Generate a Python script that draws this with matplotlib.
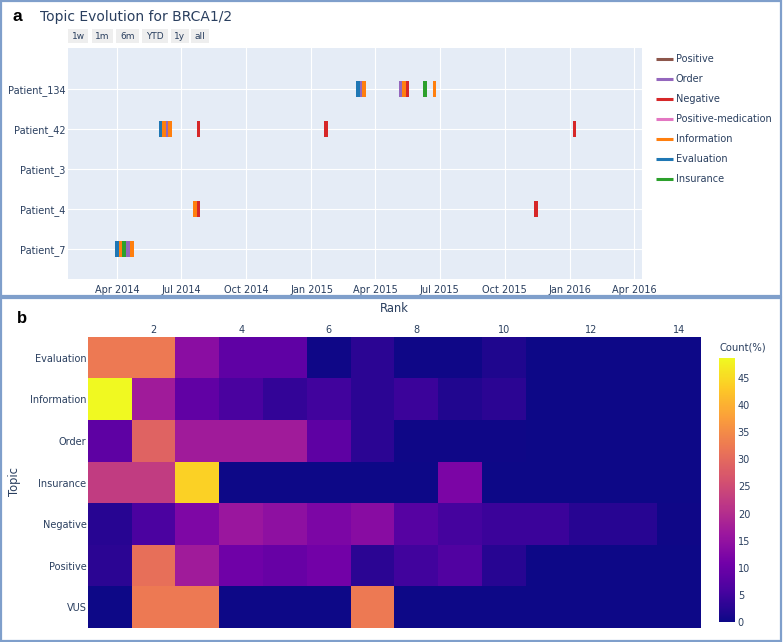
import matplotlib
matplotlib.use('Agg')
import matplotlib.pyplot as plt
import matplotlib.dates as mdates
from matplotlib.colors import LinearSegmentedColormap
from matplotlib.patches import Rectangle
from matplotlib.lines import Line2D
import numpy as np
import datetime as dt

# ---------------- Panel a data ----------------
patients = ['Patient_7', 'Patient_4', 'Patient_3', 'Patient_42', 'Patient_134']  # bottom -> top

event_patient = ['Patient_7'] * 5 + ['Patient_42'] * 7 + ['Patient_4'] * 3 + ['Patient_134'] * 8
event_topic = ['Evaluation', 'Information', 'Insurance', 'Order', 'Information',
               'Evaluation', 'Information', 'Order', 'Information', 'Negative', 'Negative', 'Negative',
               'Information', 'Negative', 'Negative',
               'Evaluation', 'Order', 'Information', 'Order', 'Information', 'Negative', 'Insurance', 'Information']
event_start = ['2014-03-30', '2014-04-04', '2014-04-09', '2014-04-14', '2014-04-19',
               '2014-05-31', '2014-06-04', '2014-06-09', '2014-06-12', '2014-07-23', '2015-01-19', '2016-01-05',
               '2014-07-18', '2014-07-23', '2015-11-12',
               '2015-03-05', '2015-03-10', '2015-03-14', '2015-05-04', '2015-05-09', '2015-05-14', '2015-06-08', '2015-06-21']
event_end = ['2014-04-04', '2014-04-09', '2014-04-14', '2014-04-19', '2014-04-25',
             '2014-06-04', '2014-06-09', '2014-06-12', '2014-06-18', '2014-07-28', '2015-01-24', '2016-01-10',
             '2014-07-23', '2014-07-28', '2015-11-17',
             '2015-03-10', '2015-03-14', '2015-03-19', '2015-05-09', '2015-05-14', '2015-05-19', '2015-06-13', '2015-06-26']

legend_topics = ['Positive', 'Order', 'Negative', 'Positive-medication', 'Information', 'Evaluation', 'Insurance']
topic_colors = {'Positive': '#8c564b', 'Order': '#9467bd', 'Negative': '#d62728',
                'Positive-medication': '#e377c2', 'Information': '#ff7f0e',
                'Evaluation': '#1f77b4', 'Insurance': '#2ca02c'}

# ---------------- Panel b data ----------------
ranks = list(range(1, 15))
heat_topics = ['Evaluation', 'Information', 'Order', 'Insurance', 'Negative', 'Positive', 'VUS']
evaluation = [32.5, 32.5, 14.0, 8.6, 8.6, 0.3, 3.0, 0.3, 0.3, 1.8, 0, 0, 0, 0]
information = [48.7, 17.0, 8.8, 6.0, 3.8, 5.0, 3.0, 4.5, 2.0, 3.0, 0, 0, 0, 0]
order = [8.5, 29.0, 17.0, 17.0, 17.0, 8.5, 3.0, 0.3, 0.3, 0.3, 0, 0, 0, 0]
insurance = [22.5, 22.5, 44.0, 0, 0, 0, 0, 0, 12.0, 0, 0, 0, 0, 0]
negative = [2.5, 6.2, 12.5, 16.0, 14.6, 12.2, 13.8, 7.5, 5.5, 4.5, 4.5, 2.5, 2.5, 0.3]
positive = [3.0, 31.0, 17.0, 10.5, 9.7, 11.0, 3.0, 5.0, 7.0, 2.5, 0, 0, 0, 0]
vus = [0, 32.5, 32.5, 0, 0, 0, 32.5, 0, 0, 0, 0, 0, 0, 0]
colorbar_ticks = [0, 5, 10, 15, 20, 25, 30, 35, 40, 45]

# ---------------- Layout helpers ----------------
W, H = 783, 642
TXT = '#2a3f5f'
plt.rcParams['font.family'] = ['DejaVu Sans']

fig = plt.figure(figsize=(W / 100, H / 100), dpi=100)


def fx(x):
    return x / W


def fy(y):
    return 1 - y / H


def axes_px(x0, y0, x1, y1):
    return fig.add_axes([fx(x0), fy(y1), fx(x1) - fx(x0), fy(y0) - fy(y1)])


# Panel frames
frame_col = '#7f9fcb'
fig.add_artist(Rectangle((fx(1), fy(296)), fx(781) - fx(1), fy(1) - fy(296),
                         transform=fig.transFigure, fill=False, edgecolor=frame_col, lw=1.6))
fig.add_artist(Rectangle((fx(1), fy(641)), fx(781) - fx(1), fy(298) - fy(641),
                         transform=fig.transFigure, fill=False, edgecolor=frame_col, lw=1.6))

# ---------------- Panel a ----------------
ax = axes_px(68, 48, 642, 279)
ax.set_facecolor('#e5ecf6')
ypos = {p: i for i, p in enumerate(patients)}
starts = mdates.date2num([dt.datetime.strptime(s, '%Y-%m-%d') for s in event_start])
ends = mdates.date2num([dt.datetime.strptime(s, '%Y-%m-%d') for s in event_end])
for p, t, s, e in zip(event_patient, event_topic, starts, ends):
    ax.barh(ypos[p], e - s, left=s, height=0.4, color=topic_colors[t],
            edgecolor='none', linewidth=0, zorder=3)

ax.set_xlim(mdates.date2num(dt.datetime(2014, 1, 22)), mdates.date2num(dt.datetime(2016, 4, 12)))
ax.set_ylim(-0.75, 5.025)
ax.set_yticks(range(len(patients)))
ax.set_yticklabels(patients)
ax.xaxis.set_major_locator(mdates.MonthLocator(bymonth=[1, 4, 7, 10]))
ax.xaxis.set_major_formatter(mdates.DateFormatter('%b %Y'))
ax.tick_params(axis='both', length=0, labelsize=7, colors=TXT)
ax.tick_params(axis='x', pad=4)
ax.tick_params(axis='y', pad=2)
ax.grid(True, color='white', lw=0.8, zorder=0)
ax.set_axisbelow(True)
for sp in ax.spines.values():
    sp.set_visible(False)

# Legend (manual, plotly-like)
legend_y = [59, 79, 99, 119, 139, 159, 179]
for name, yy in zip(legend_topics, legend_y):
    fig.add_artist(Line2D([fx(656), fx(673)], [fy(yy), fy(yy)], transform=fig.transFigure,
                          color=topic_colors[name], lw=2.2, solid_capstyle='butt'))
    fig.text(fx(676), fy(yy), name, fontsize=7, color=TXT, va='center', ha='left')

# Title, panel label, range buttons
fig.text(fx(12.5), fy(21), 'a', fontsize=12.5, fontweight='bold', family='Liberation Sans',
         va='baseline', ha='left', color='black')
fig.text(fx(40), fy(21.5), 'Topic Evolution for BRCA1/2', fontsize=10, color=TXT,
         va='baseline', ha='left')
buttons = ['1w', '1m', '6m', 'YTD', '1y', 'all']
button_x = [(68.3, 88.3), (91.7, 113.3), (116, 139.3), (141.7, 168.3), (170.7, 188.7), (190.7, 209)]
for lab, (x0, x1) in zip(buttons, button_x):
    fig.add_artist(Rectangle((fx(x0), fy(43.3)), fx(x1) - fx(x0), fy(29.3) - fy(43.3),
                             transform=fig.transFigure, facecolor='#eeeeee', edgecolor='none'))
    fig.text(fx((x0 + x1) / 2), fy(36.3), lab, fontsize=6.5, color=TXT, ha='center', va='center')

# ---------------- Panel b ----------------
plotly_plasma = ['#0d0887', '#46039f', '#7201a8', '#9c179e', '#bd3786',
                 '#d8576b', '#ed7953', '#fb9f3a', '#fdca26', '#f0f921']
cmap = LinearSegmentedColormap.from_list('plotly_plasma', plotly_plasma)

Z = np.array([evaluation, information, order, insurance, negative, positive, vus])
axh = axes_px(88, 337, 701, 628)
im = axh.imshow(Z, cmap=cmap, vmin=0, vmax=Z.max(), aspect='auto', interpolation='nearest',
                extent=[ranks[0] - 0.5, ranks[-1] + 0.5, len(heat_topics) - 0.5, -0.5])
axh.set_yticks(range(len(heat_topics)))
axh.set_yticklabels(heat_topics)
axh.set_xticks([r for r in ranks if r % 2 == 0])
axh.xaxis.tick_top()
axh.tick_params(axis='both', length=0, labelsize=7, colors=TXT)
axh.tick_params(axis='x', pad=1.5)
axh.tick_params(axis='y', pad=1)
for sp in axh.spines.values():
    sp.set_visible(False)

fig.text(fx(394.5), fy(309), 'Rank', fontsize=8.3, color=TXT, ha='center', va='center')
fig.text(fx(15), fy(482), 'Topic', fontsize=8.3, color=TXT, ha='center', va='center', rotation=90)
fig.text(fx(16.7), fy(323.3), 'b', fontsize=12, fontweight='bold', family='Liberation Sans',
         va='baseline', ha='left', color='black')

cax = axes_px(719, 358, 735, 622)
cb = fig.colorbar(im, cax=cax, ticks=colorbar_ticks)
cb.outline.set_visible(False)
cax.tick_params(length=0, labelsize=7, colors=TXT, pad=2)
fig.text(fx(719), fy(348), 'Count(%)', fontsize=7.2, color=TXT, ha='left', va='center')

fig.savefig('out.png', dpi=100, facecolor='white')
